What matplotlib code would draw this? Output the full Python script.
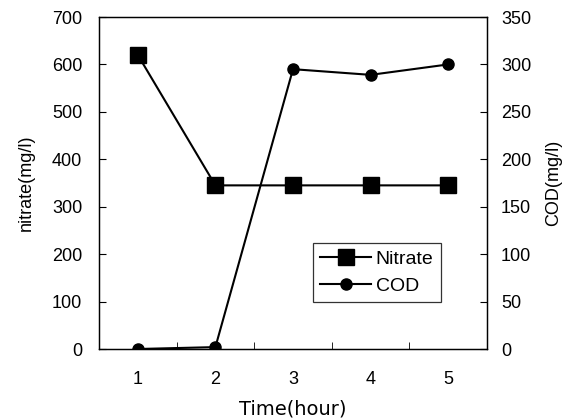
import matplotlib

matplotlib.use("Agg")
import matplotlib.pyplot as plt
from matplotlib.ticker import FixedLocator

plt.rcParams["font.family"] = ["Liberation Sans", "DejaVu Sans"]

hours = [1, 2, 3, 4, 5]
nitrate = [620, 345, 345, 345, 345]
cod = [0, 2, 295, 289, 300]

fig = plt.figure(figsize=(5.71, 4.19), dpi=100)
ax = fig.add_axes([99 / 571, 70 / 419, 388 / 571, 332 / 419])
ax2 = ax.twinx()

l1, = ax.plot(hours, nitrate, color="black", lw=1.5, marker="s", ms=12, label="Nitrate")
l2, = ax2.plot(hours, cod, color="black", lw=1.5, marker="o", ms=8, label="COD")

ax.set_xlim(0.5, 5.5)
ax.set_ylim(0, 700)
ax2.set_ylim(0, 350)
ax.set_yticks(range(0, 701, 100))
ax2.set_yticks(range(0, 351, 50))
ax.set_xticks(hours)
ax.xaxis.set_minor_locator(FixedLocator([1.5, 2.5, 3.5, 4.5]))
ax.tick_params(axis="x", which="major", length=0, pad=16, labelsize=13)
ax.tick_params(axis="x", which="minor", direction="in", length=5)
ax.tick_params(axis="y", direction="in", length=5, pad=12, labelsize=13)
ax2.tick_params(axis="y", direction="in", length=5, pad=10, labelsize=13)

ax.set_xlabel("Time(hour)", fontsize=14, family="DejaVu Sans", labelpad=8)
ax.set_ylabel("nitrate(mg/l)", fontsize=13, labelpad=12)
ax2.set_ylabel("COD(mg/l)", fontsize=13, labelpad=10)

for a in (ax, ax2):
    for s in a.spines.values():
        s.set_linewidth(0.9)

leg = ax.legend([l1, l2], ["Nitrate", "COD"], loc="lower left", bbox_to_anchor=(0.552, 0.142),
                fontsize=14, frameon=True, fancybox=False, edgecolor="black",
                handlelength=2.6, borderpad=0.37, labelspacing=0.45, handletextpad=0.25,
                borderaxespad=0)
leg.get_frame().set_linewidth(0.9)

fig.savefig("out.png", dpi=100)
